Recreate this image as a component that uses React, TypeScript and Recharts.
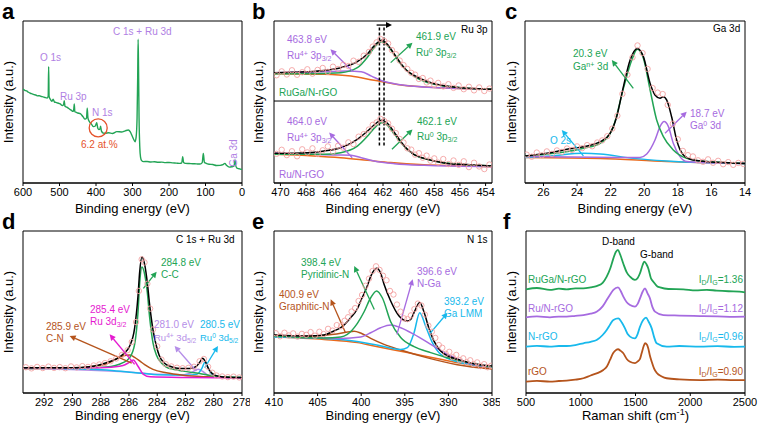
import React from "react";
import { LineChart, Line, XAxis, YAxis, ReferenceArea, ReferenceLine, ReferenceDot } from "recharts";

type P = [number, number][];

const FONT = "'Liberation Sans', Arial, Helvetica, sans-serif";
const GREEN = "#22a455";
const PURPLE = "#a66be0";
const ORANGE = "#ea6a1c";
const BROWN = "#b5541c";
const CYAN = "#18b9ec";
const MAGENTA = "#e51ad0";
const PINK = "#f4a3a3";
const LILAC = "#b07fe3";
const LAV = "#b58ee8";
const RED = "#e5522b";

// ---- a: survey ----
const aTicks = [0, 100, 200, 300, 400, 500, 600];
const aSurvey: P = [
  [600, 58.0], [595, 57.2], [590, 56.8], [585, 56.0], [580, 55.4], [575, 55.0], [570, 54.6], [565, 54.3],
  [560, 53.8], [555, 53.9], [550, 53.4], [545, 53.2], [540, 52.8], [534, 52.4], [531, 53.5], [529.7, 71.8],
  [528.5, 53.5], [525, 51.6], [521, 50.4], [517.5, 51.8], [514, 50.0], [510, 49.8], [505, 49.4], [498, 48.8],
  [492, 47.8], [489, 48.2], [487, 50.8], [485, 47.4], [480, 46.8], [475, 46.0], [468, 45.0], [463, 44.2],
  [461, 45.5], [459.5, 48.8], [458, 44.0], [454, 43.6], [450, 43.2], [443, 42.8], [436, 41.0], [430, 39.4],
  [426, 40.0], [424, 46.1], [422, 40.0], [418, 37.8], [412, 36.2], [407, 34.8], [402, 35.2], [399.5, 36.5],
  [398, 37.2], [395, 33.8], [392, 33.0], [389, 33.4], [387.5, 35.0], [385, 32.0], [380, 30.8], [375, 30.7],
  [365, 31.0], [355, 30.6], [343, 31.7], [330, 31.5], [320, 32.2], [311.5, 32.7], [306, 31.5], [302, 29.6],
  [297, 27.0], [293, 25.5], [290, 28.5], [287.5, 40], [285.8, 65], [284.6, 88.7], [283.5, 72], [282, 40],
  [280, 22], [278, 16], [275, 13.8], [270, 13.2], [260, 13.3], [250, 13.0], [240, 13.1], [230, 12.8],
  [220, 12.9], [210, 12.6], [200, 12.7], [190, 12.4], [180, 12.3], [170, 12.1], [165, 12.4], [162.5, 16.3],
  [160, 12.6], [155, 12.1], [145, 12.0], [135, 11.9], [125, 11.8], [115, 11.7], [109, 12.6], [106, 18.3],
  [103, 12.8], [98, 12.1], [90, 11.6], [80, 11.4], [70, 10.8], [60, 10.9], [52, 11.3], [47, 12.1], [42, 10.8],
  [35, 9.8], [28, 10.0], [22, 10.4], [20, 13.0], [19, 14.2], [17.5, 11.0], [14, 9.2], [8, 8.8], [3, 8.5],
  [0, 8.4],
];

// ---- b: Ru 3p ----
const bTicks = [454, 456, 458, 460, 462, 464, 466, 468, 470];
const bTopRaw: P = [
  [470.3, 66.5], [469.9, 68.9], [469.5, 67.0], [469.1, 69.6], [468.7, 66.8], [468.3, 68.4], [467.9, 70.2],
  [467.5, 67.5], [467.1, 69.8], [466.7, 71.0], [466.3, 68.6], [465.9, 71.8], [465.5, 70.4], [465.1, 73.0],
  [464.7, 72.2], [464.3, 75.5], [463.9, 74.8], [463.5, 78.6], [463.1, 80.9], [462.8, 84.2], [462.5, 86.8],
  [462.2, 88.9], [461.9, 87.6], [461.6, 86.1], [461.3, 82.0], [461.0, 79.5], [460.7, 75.6], [460.4, 72.8],
  [460.1, 70.4], [459.8, 68.0], [459.5, 66.9], [459.2, 64.2], [458.9, 64.8], [458.6, 62.1], [458.3, 63.2],
  [458.0, 60.5], [457.7, 61.8], [457.3, 59.6], [456.9, 61.0], [456.5, 58.7], [456.1, 60.2], [455.7, 57.9],
  [455.3, 59.4], [454.9, 57.2], [454.5, 59.0], [454.1, 56.8], [453.7, 58.3],
];
const bTopFit: P = [
  [470.5, 68.1], [467.9, 68.7], [466.6, 69.5], [465.3, 71.2], [464.0, 74.9], [463.2, 79.8], [462.7, 84.6],
  [462.1, 88.1], [461.7, 86.0], [461.1, 79.4], [460.6, 73.7], [460.1, 69.1], [459.6, 66.5], [458.8, 63.4],
  [458.0, 61.3], [457.0, 59.7], [455.9, 58.8], [453.5, 57.8],
];
const bTopRu0: P = [
  [470.5, 67.5], [467.9, 67.5], [465.3, 68.1], [464.0, 71.2], [463.2, 77.8], [462.7, 83.5], [462.1, 87.2],
  [461.7, 85.2], [461.1, 79.0], [460.6, 73.3], [459.6, 66.0], [458.0, 60.9], [455.9, 58.8], [453.5, 57.8],
];
const bTopRu4: P = [
  [470.5, 68.1], [466.6, 68.7], [464.8, 69.1], [463.7, 68.7], [462.9, 66.0], [462.2, 63.4], [461.1, 61.3],
  [459.6, 59.7], [457.5, 58.8], [453.5, 57.8],
];
const bTopBg: P = [
  [470.5, 67.5], [466.6, 67.1], [464.5, 66.0], [462.7, 63.4], [460.6, 60.5], [458.8, 59.3], [456.2, 58.4],
  [453.5, 57.8],
];
const bBotRaw: P = [
  [470.3, 18.0], [469.9, 20.5], [469.5, 17.2], [469.1, 19.6], [468.7, 16.5], [468.3, 20.8], [467.9, 18.9],
  [467.5, 21.4], [467.1, 17.9], [466.7, 20.2], [466.3, 22.6], [465.9, 19.4], [465.5, 23.0], [465.1, 21.8],
  [464.7, 25.1], [464.3, 24.0], [463.9, 28.6], [463.5, 30.2], [463.1, 33.0], [462.8, 35.9], [462.5, 37.4],
  [462.2, 39.6], [461.9, 38.2], [461.6, 36.8], [461.3, 33.5], [461.0, 30.8], [460.7, 27.2], [460.4, 25.0],
  [460.1, 21.4], [459.8, 20.6], [459.5, 17.5], [459.2, 18.4], [458.9, 15.6], [458.6, 16.9], [458.3, 13.8],
  [458.0, 15.2], [457.7, 12.6], [457.3, 14.8], [456.9, 11.7], [456.5, 13.9], [456.1, 11.2], [455.7, 13.4],
  [455.3, 9.8], [454.9, 12.5], [454.5, 10.2], [454.1, 8.6], [453.7, 11.4],
];
const bBotFit: P = [
  [470.5, 18.3], [467.9, 18.7], [466.6, 19.8], [465.3, 21.8], [464.0, 27.0], [463.2, 32.1], [462.7, 35.8],
  [462.1, 38.7], [461.7, 37.2], [461.1, 31.1], [460.6, 25.5], [460.1, 20.8], [459.6, 17.7], [458.8, 15.2],
  [458.0, 13.6], [457.0, 12.1], [455.9, 11.5], [453.5, 10.5],
];
const bBotRu0: P = [
  [470.5, 17.7], [466.6, 17.7], [465.3, 18.7], [464.0, 22.8], [463.2, 29.0], [462.7, 33.7], [462.1, 37.2],
  [461.7, 35.8], [461.1, 30.0], [460.6, 24.9], [459.6, 17.7], [458.0, 13.6], [455.9, 11.5], [453.5, 10.5],
];
const bBotRu4: P = [
  [470.5, 18.3], [467.4, 17.7], [465.8, 17.3], [464.5, 17.1], [463.7, 15.6], [462.7, 13.6], [461.1, 11.9],
  [458.8, 10.9], [453.5, 10.1],
];
const bBotBg: P = [
  [470.5, 17.7], [467.4, 16.7], [465.3, 15.6], [463.2, 14.0], [461.4, 12.6], [458.8, 11.3], [456.2, 10.7],
  [453.5, 10.1],
];

// ---- c: Ga 3d ----
const cTicks = [14, 16, 18, 20, 22, 24, 26];
const cRaw: P = [
  [27.0, 17.5], [26.7, 16.2], [26.4, 18.8], [26.1, 17.1], [25.8, 19.5], [25.5, 18.0], [25.2, 20.1],
  [24.9, 19.2], [24.6, 21.3], [24.3, 20.4], [24.0, 22.6], [23.7, 21.5], [23.4, 23.4], [23.1, 22.7],
  [22.8, 25.0], [22.5, 26.3], [22.2, 28.9], [21.9, 33.6], [21.6, 41.5], [21.3, 55.0], [21.0, 66.8],
  [20.7, 77.5], [20.4, 84.9], [20.1, 80.2], [19.8, 70.4], [19.5, 58.6], [19.2, 55.8], [18.9, 54.9],
  [18.6, 48.2], [18.3, 36.5], [18.0, 27.0], [17.7, 19.8], [17.4, 17.2], [17.1, 16.4], [16.8, 14.0],
  [16.5, 13.1], [16.2, 14.6], [15.9, 12.5], [15.6, 13.7], [15.3, 11.6], [15.0, 12.9], [14.7, 11.2],
  [14.4, 12.4], [14.1, 11.8],
];
const cFit: P = [
  [27.09, 16.7], [25.6, 18.7], [24.61, 20.8], [23.62, 22.4], [22.63, 25.5], [22.03, 30.7], [21.64, 40.9],
  [21.24, 59.5], [20.84, 75.9], [20.41, 83.1], [20.05, 78.0], [19.65, 61.5], [19.36, 54.3], [19.06, 52.3],
  [18.86, 53.3], [18.66, 51.2], [18.37, 40.9], [18.07, 26.5], [17.67, 17.3], [17.08, 14.2], [15.69, 12.8],
  [14.0, 12.1],
];
const cGaN: P = [
  [27.09, 16.7], [23.62, 21.4], [22.63, 24.5], [21.84, 34.8], [21.24, 58.4], [20.74, 75.9], [20.41, 82.5],
  [20.05, 77.0], [19.65, 57.4], [19.26, 38.9], [18.86, 28.6], [18.27, 20.4], [17.47, 15.2], [16.28, 13.2],
  [14.0, 12.1],
];
const cGa0: P = [
  [27.09, 16.3], [21.64, 15.8], [20.25, 15.8], [19.85, 17.9], [19.36, 26.5], [19.06, 34.8], [18.82, 37.9],
  [18.56, 34.8], [18.27, 24.5], [17.87, 16.3], [17.47, 13.2], [16.68, 12.6], [14.0, 12.1],
];
const cO2s: P = [
  [27.09, 15.8], [25.6, 16.7], [23.62, 18.3], [22.63, 17.9], [20.65, 15.2], [18.66, 13.6], [16.68, 12.6],
  [14.0, 12.1],
];
const cBg: P = [[27.09, 15.8], [22.63, 15.2], [18.66, 13.2], [14.0, 12.1]];

// ---- d: C 1s + Ru 3d ----
const dTicks = [278, 280, 282, 284, 286, 288, 290, 292];
const dRaw: P = [
  [293.3, 15.9], [292.9, 15.2], [292.5, 16.1], [292.1, 15.4], [291.7, 16.3], [291.3, 15.5], [290.9, 16.0],
  [290.5, 15.3], [290.1, 16.4], [289.7, 15.8], [289.3, 16.6], [288.9, 16.1], [288.5, 17.0], [288.1, 17.6],
  [287.7, 18.5], [287.3, 19.6], [286.9, 21.3], [286.5, 23.5], [286.1, 26.4], [285.8, 31.5], [285.5, 43.8],
  [285.3, 63.0], [285.1, 82.5], [284.9, 80.6], [284.7, 67.4], [284.5, 52.1], [284.3, 39.2], [284.0, 28.8],
  [283.7, 20.6], [283.4, 17.8], [283.0, 16.4], [282.6, 15.6], [282.2, 15.3], [281.8, 15.5], [281.4, 16.2],
  [281.0, 19.6], [280.7, 21.0], [280.4, 16.2], [280.1, 12.5], [279.8, 10.8], [279.4, 10.2], [279.0, 9.8],
  [278.6, 10.1], [278.2, 9.6],
];
const dFit: P = [
  [293.5, 15.6], [289.96, 15.6], [288.78, 16.2], [287.6, 18.7], [286.9, 21.0], [286.42, 23.9], [285.95, 29.0],
  [285.6, 40.0], [285.36, 60.0], [285.24, 75.0], [285.08, 84.0], [284.89, 79.4], [284.7, 68.0], [284.54, 54.7],
  [284.3, 39.0], [284.06, 29.0], [283.85, 23.0], [283.5, 18.5], [283.0, 16.2], [282.4, 15.2], [281.7, 15.2],
  [281.23, 16.5], [280.95, 19.5], [280.8, 21.4], [280.6, 19.5], [280.4, 15.5], [280.1, 12.0], [279.6, 10.2],
  [279.0, 9.7], [278.0, 9.5],
];
const dCC: P = [
  [293.5, 15.2], [288.78, 15.6], [287.6, 16.0], [286.42, 18.7], [285.95, 21.8], [285.6, 30.0], [285.36, 50.0],
  [285.24, 68.0], [285.08, 77.8], [284.89, 73.3], [284.7, 62.0], [284.54, 47.0], [284.3, 31.0], [284.06, 23.5],
  [283.7, 18.5], [283.36, 16.0], [282.8, 14.5], [282.18, 13.5], [281.0, 12.0], [280.0, 10.5], [278.0, 9.5],
];
const dCN: P = [
  [293.5, 15.2], [289.96, 15.4], [288.78, 16.2], [287.6, 18.0], [286.9, 21.0], [286.42, 23.0], [285.93, 23.5],
  [285.6, 22.0], [285.24, 19.8], [284.89, 17.5], [284.3, 14.6], [283.36, 12.5], [282.18, 11.0], [280.5, 10.0],
  [278.0, 9.4],
];
const dRu3d32: P = [
  [293.5, 15.6], [288.78, 15.6], [287.6, 15.8], [286.42, 17.0], [286.0, 18.8], [285.7, 20.4], [285.36, 16.5],
  [285.0, 11.7], [284.5, 10.0], [282.0, 9.6], [278.0, 9.4],
];
const dRu0: P = [
  [293.5, 15.6], [290.0, 15.0], [287.6, 14.2], [285.95, 12.8], [284.0, 11.3], [282.0, 11.0], [281.2, 11.5],
  [280.85, 15.0], [280.6, 19.3], [280.4, 15.5], [280.1, 11.0], [279.5, 9.8], [278.0, 9.5],
];
const dRu4: P = [
  [293.5, 15.2], [286.0, 13.0], [284.0, 11.5], [282.2, 11.2], [281.6, 12.5], [281.1, 14.6], [280.7, 12.8],
  [280.3, 10.5], [279.5, 9.7], [278.0, 9.4],
];

// ---- e: N 1s ----
const eTicks = [385, 390, 395, 400, 405, 410];
const eRaw: P = [
  [409.8, 36.9], [409.3, 35.0], [408.8, 37.2], [408.3, 35.5], [407.8, 36.8], [407.3, 34.8], [406.8, 36.5],
  [406.3, 35.9], [405.8, 37.6], [405.3, 35.4], [404.8, 37.8], [404.3, 36.4], [403.8, 39.6], [403.3, 38.5],
  [402.8, 41.9], [402.3, 41.2], [401.9, 44.6], [401.5, 46.8], [401.1, 50.3], [400.7, 52.4], [400.3, 56.8],
  [399.9, 60.5], [399.5, 66.2], [399.1, 70.6], [398.7, 75.3], [398.3, 78.2], [397.9, 76.0], [397.5, 72.4],
  [397.1, 69.6], [396.7, 63.0], [396.3, 60.8], [395.9, 54.6], [395.5, 50.2], [395.1, 46.1], [394.7, 45.6],
  [394.3, 47.9], [393.9, 51.8], [393.5, 55.2], [393.1, 54.0], [392.7, 48.4], [392.3, 41.6], [391.9, 37.8],
  [391.5, 34.0], [391.1, 29.6], [390.7, 27.9], [390.3, 24.2], [389.9, 25.4], [389.5, 22.1], [389.1, 23.5],
  [388.7, 20.3], [388.3, 21.4], [387.9, 19.0], [387.5, 20.2], [387.1, 17.8], [386.7, 18.9], [386.3, 16.6],
  [385.9, 17.8], [385.5, 15.9], [385.1, 16.8],
];
const eFit: P = [
  [410, 35.8], [406.18, 35.2], [404.27, 35.8], [403.12, 38.3], [402.35, 40.3], [401.21, 46.5], [400.44, 52.0],
  [400.06, 56.8], [399.3, 66.0], [398.91, 72.0], [398.23, 77.0], [397.77, 74.0], [397.38, 67.1], [396.62, 56.8],
  [395.66, 47.5], [394.71, 44.4], [394.3, 45.5], [393.94, 49.6], [393.29, 55.8], [392.8, 50.0], [392.23, 40.0],
  [391.65, 32.0], [390.89, 25.9], [390.12, 23.0], [388.97, 20.8], [387.06, 18.1], [385, 16.7],
];
const ePyr: P = [
  [410, 35.2], [404.27, 34.0], [402.35, 34.6], [401.59, 36.2], [400.44, 43.0], [399.68, 50.0], [398.91, 58.8],
  [398.23, 63.0], [397.58, 58.8], [396.62, 44.0], [395.47, 34.2], [393.94, 28.6], [392.03, 24.9], [390.12, 21.8],
  [387.06, 18.1], [385, 16.0],
];
const eNGa: P = [
  [410, 35.2], [402.35, 33.7], [400.06, 34.6], [398.91, 37.2], [397.77, 40.3], [396.62, 42.0], [395.47, 40.3],
  [393.94, 36.2], [392.03, 30.0], [390.12, 23.9], [387.83, 18.7], [385, 16.0],
];
const eGaLMM: P = [
  [410, 34.6], [402.35, 33.1], [398.53, 30.0], [395.47, 26.9], [394.71, 28.0], [393.94, 37.2], [393.29, 49.6],
  [392.61, 41.2], [391.84, 31.1], [390.89, 23.9], [388.97, 19.3], [387.06, 17.3], [385, 16.0],
];
const eGraph: P = [
  [410, 35.6], [406.18, 35.0], [403.12, 36.2], [401.59, 37.6], [400.82, 38.1], [400.06, 37.0], [398.91, 33.7],
  [397.38, 30.0], [395.47, 26.5], [392.61, 22.0], [388.97, 17.5], [385, 14.8],
];
const eBg: P = [
  [410, 34.6], [404.27, 33.1], [400.44, 31.1], [398.53, 29.0], [394.71, 25.0], [390.89, 20.8], [387.06, 16.9],
  [385, 15.2],
];

// ---- f: Raman ----
const fTicks = [500, 1000, 1500, 2000, 2500];
const fRuGa: P = [
  [500, 64.0], [600, 64.8], [719, 63.6], [800, 64.4], [871, 64.0], [950, 64.6], [1024, 64.6], [1090, 65.2],
  [1145, 66.0], [1200, 68.0], [1237, 71.8], [1270, 77.0], [1298, 83.1], [1320, 87.0], [1340, 88.3],
  [1360, 85.5], [1389, 79.8], [1420, 74.5], [1450, 71.8], [1495, 69.8], [1520, 71.0], [1541, 73.9],
  [1565, 79.0], [1580, 81.1], [1600, 79.5], [1617, 76.9], [1640, 71.0], [1663, 68.7], [1700, 65.8],
  [1724, 65.2], [1800, 64.2], [1937, 64.0], [2050, 63.4], [2150, 63.7], [2241, 63.2], [2350, 62.8],
  [2450, 62.6], [2500, 62.1],
];
const fRu: P = [
  [500, 46.7], [600, 47.3], [719, 46.7], [800, 47.2], [871, 47.1], [950, 47.6], [1024, 48.1], [1090, 49.0],
  [1145, 50.2], [1200, 53.5], [1237, 57.4], [1270, 61.0], [1298, 63.6], [1340, 65.2], [1365, 63.0],
  [1389, 59.5], [1420, 56.0], [1450, 54.3], [1495, 53.3], [1520, 55.0], [1541, 58.4], [1565, 62.5],
  [1587, 64.6], [1610, 61.5], [1632, 58.4], [1655, 53.0], [1678, 50.2], [1754, 48.1], [1900, 47.8],
  [2089, 47.5], [2250, 47.3], [2400, 47.0], [2500, 47.1],
];
const fNrGO: P = [
  [500, 28.6], [600, 29.1], [719, 28.6], [800, 29.0], [871, 29.0], [950, 29.6], [1024, 30.7], [1090, 31.6],
  [1145, 32.7], [1200, 35.8], [1237, 38.9], [1270, 42.5], [1298, 45.1], [1343, 46.1], [1375, 43.5],
  [1404, 39.9], [1430, 36.2], [1450, 34.8], [1495, 33.7], [1520, 36.5], [1541, 40.9], [1570, 45.0],
  [1596, 46.5], [1620, 44.0], [1648, 39.9], [1670, 34.5], [1693, 30.7], [1785, 28.6], [1900, 29.0],
  [2089, 28.6], [2250, 28.9], [2400, 28.5], [2500, 28.6],
];
const frGO: P = [
  [500, 7.0], [600, 7.5], [719, 7.0], [800, 7.4], [871, 7.6], [950, 8.2], [1024, 9.1], [1090, 10.8],
  [1145, 12.1], [1206, 14.2], [1240, 16.5], [1267, 20.4], [1295, 24.5], [1313, 26.0], [1340, 27.0],
  [1365, 26.0], [1389, 24.5], [1420, 21.0], [1450, 19.3], [1495, 18.5], [1520, 19.5], [1541, 21.0],
  [1556, 24.5], [1575, 29.0], [1587, 30.7], [1605, 29.8], [1617, 27.5], [1630, 23.5], [1648, 19.3],
  [1670, 15.0], [1693, 12.5], [1740, 10.2], [1785, 9.1], [1900, 8.4], [2089, 8.0], [2250, 8.3],
  [2400, 7.9], [2500, 8.0],
];

const rows = (p: P) => p.map(([x, y]) => ({ x, y }));

function curve(key: string, p: P, color: string, w = 1.5) {
  return (
    <Line key={key} data={rows(p)} dataKey="y" type="monotone" stroke={color} strokeWidth={w}
      dot={false} activeDot={false} isAnimationActive={false} />
  );
}

function circles(key: string, p: P) {
  return (
    <Line key={key} data={rows(p)} dataKey="y" stroke="none"
      dot={{ r: 2.7, stroke: PINK, strokeWidth: 0.9, fill: "none" }}
      activeDot={false} isAnimationActive={false} />
  );
}

const arrowShape = (color: string, w = 1.3) => (p: any) => {
  const { x1, y1, x2, y2 } = p;
  const a = Math.atan2(y2 - y1, x2 - x1);
  const L = 6, H = 3;
  const bx = x2 - L * Math.cos(a);
  const by = y2 - L * Math.sin(a);
  const pts = `${x2},${y2} ${bx - H * Math.sin(a)},${by + H * Math.cos(a)} ${bx + H * Math.sin(a)},${by - H * Math.cos(a)}`;
  return (
    <g>
      <line x1={x1} y1={y1} x2={bx} y2={by} stroke={color} strokeWidth={w} />
      <polygon points={pts} fill={color} />
    </g>
  );
};

function arrow(key: string, from: [number, number], to: [number, number], color: string) {
  return (
    <ReferenceLine key={key} segment={[{ x: from[0], y: from[1] }, { x: to[0], y: to[1] }]}
      ifOverflow="visible" shape={arrowShape(color)} />
  );
}

function Spectrum({ left, top, width, ml, mr, domain, ticks, reversed = true, children }: any) {
  return (
    <div style={{ position: "absolute", left, top }}>
      <LineChart width={width} height={200} margin={{ top: 21, right: mr, bottom: 0, left: ml }}>
        <XAxis type="number" dataKey="x" domain={domain} ticks={ticks} reversed={reversed} allowDataOverflow
          interval={0} height={17} tickSize={3} stroke="#000"
          tick={{ fontSize: 11, fill: "#000", fontFamily: FONT }} />
        <YAxis type="number" domain={[0, 100]} hide allowDataOverflow />
        <ReferenceArea x1={domain[0]} x2={domain[1]} y1={0} y2={100} fill="none" stroke="#000"
          strokeWidth={1} ifOverflow="visible" />
        {children}
      </LineChart>
    </div>
  );
}

function T({ x, y, c = "#000", s = 10, b = false, right, children }: any) {
  const style: React.CSSProperties = {
    position: "absolute", top: y, color: c, fontSize: s, fontWeight: b ? 700 : 400,
    fontFamily: FONT, lineHeight: 1, whiteSpace: "nowrap",
  };
  if (right !== undefined) style.right = right; else style.left = x;
  return <div style={style}>{children}</div>;
}

function Center({ x, y, s = 13, rot = false, c = "#000", children }: any) {
  return (
    <div style={{
      position: "absolute", left: x, top: y, fontSize: s, fontFamily: FONT, color: c, lineHeight: 1,
      whiteSpace: "nowrap", transform: rot ? "translate(-50%,-50%) rotate(-90deg)" : "translateX(-50%)",
    }}>{children}</div>
  );
}

const sub = (t: string) => <sub style={{ fontSize: "0.7em", verticalAlign: "-0.25em", lineHeight: 0 }}>{t}</sub>;
const sup = (t: string) => <sup style={{ fontSize: "0.7em", verticalAlign: "0.5em", lineHeight: 0 }}>{t}</sup>;

export default function App() {
  return (
    <div style={{ position: "absolute", left: 0, top: 0, width: 758, height: 429, background: "#fff", overflow: "hidden" }}>
      {/* a */}
      <Spectrum left={0} top={0} width={250} ml={23} mr={8} domain={[0, 600]} ticks={aTicks}>
        {curve("a", aSurvey, GREEN, 1.4)}
        <ReferenceDot x={394} y={34} r={9} fill="none" stroke={RED} strokeWidth={1.3} ifOverflow="visible" />
      </Spectrum>
      {/* b */}
      <Spectrum left={250} top={0} width={250} ml={24} mr={8} domain={[453.5, 470.5]} ticks={bTicks}>
        {circles("bt0", bTopRaw)}
        {circles("bb0", bBotRaw)}
        {curve("bt1", bTopBg, ORANGE)}
        {curve("bt2", bTopRu4, PURPLE)}
        {curve("bt3", bTopRu0, GREEN)}
        {curve("bt4", bTopFit, "#000")}
        {curve("bb1", bBotBg, ORANGE)}
        {curve("bb2", bBotRu4, PURPLE)}
        {curve("bb3", bBotRu0, GREEN)}
        {curve("bb4", bBotFit, "#000")}
        <ReferenceLine y={50.6} stroke="#000" strokeWidth={1} />
        <ReferenceLine segment={[{ x: 462.28, y: 96 }, { x: 462.28, y: 22 }]} stroke="#000" strokeWidth={1.5} strokeDasharray="3 2" />
        <ReferenceLine segment={[{ x: 461.92, y: 96 }, { x: 461.92, y: 22 }]} stroke="#000" strokeWidth={1.5} strokeDasharray="3 2" />
        {arrow("bar", [462.5, 97.5], [461.3, 97.5], "#000")}
        {arrow("ba1", [464.4, 69.1], [466.1, 82.5], PURPLE)}
        {arrow("ba2", [461.4, 74.3], [459.7, 86.6], GREEN)}
        {arrow("ba3", [464.4, 15.6], [466.2, 31.1], PURPLE)}
        {arrow("ba4", [461.3, 20.8], [459.7, 33.1], GREEN)}
      </Spectrum>
      {/* c */}
      <Spectrum left={500} top={0} width={258} ml={25} mr={13} domain={[14, 27.1]} ticks={cTicks}>
        {circles("c0", cRaw)}
        {curve("c1", cBg, ORANGE)}
        {curve("c2", cO2s, CYAN)}
        {curve("c3", cGa0, PURPLE)}
        {curve("c4", cGaN, GREEN)}
        {curve("c5", cFit, "#000")}
        {arrow("ca1", [20.65, 58.4], [21.93, 75.9], GREEN)}
        {arrow("ca2", [18.76, 30.7], [17.47, 44.0], PURPLE)}
        {arrow("ca3", [23.62, 16.7], [24.91, 32.7], CYAN)}
      </Spectrum>
      {/* d */}
      <Spectrum left={0} top={210} width={250} ml={23} mr={8} domain={[278, 293.5]} ticks={dTicks}>
        {circles("d0", dRaw)}
        {curve("d1", dRu4, LAV)}
        {curve("d2", dRu0, CYAN)}
        {curve("d3", dCN, BROWN)}
        {curve("d4", dCC, GREEN)}
        {curve("d5", dRu3d32, MAGENTA)}
        {curve("d6", dFit, "#000")}
        {arrow("da1", [284.98, 64.6], [284.04, 74.9], GREEN)}
        {arrow("da2", [285.6, 17.7], [287.37, 36.2], MAGENTA)}
        {arrow("da3", [285.8, 18.5], [290.2, 35.2], BROWN)}
        {arrow("da4", [281.23, 13.6], [282.77, 29.0], LAV)}
        {arrow("da5", [280.64, 15.6], [279.7, 29.0], CYAN)}
      </Spectrum>
      {/* e */}
      <Spectrum left={250} top={210} width={250} ml={24} mr={8} domain={[385, 410]} ticks={eTicks}>
        {circles("e0", eRaw)}
        {curve("e1", eBg, ORANGE)}
        {curve("e2", eGraph, BROWN)}
        {curve("e3", eGaLMM, CYAN)}
        {curve("e4", eNGa, PURPLE)}
        {curve("e5", ePyr, GREEN)}
        {curve("e6", eFit, "#000")}
        {arrow("ea1", [398.5, 51.6], [400.8, 78.4], GREEN)}
        {arrow("ea2", [401.8, 37.2], [403.5, 57.8], BROWN)}
        {arrow("ea3", [395.9, 36.2], [394.1, 70.2], PURPLE)}
        {arrow("ea4", [392.2, 36.2], [390.1, 49.6], CYAN)}
      </Spectrum>
      {/* f */}
      <Spectrum left={500} top={210} width={258} ml={26} mr={13} domain={[500, 2500]} ticks={fTicks} reversed={false}>
        {curve("f1", frGO, BROWN, 1.8)}
        {curve("f2", fNrGO, CYAN, 1.8)}
        {curve("f3", fRu, PURPLE, 1.8)}
        {curve("f4", fRuGa, GREEN, 1.8)}
      </Spectrum>

      {/* panel letters */}
      <T x={2} y={1} s={22} b>a</T>
      <T x={252} y={1} s={22} b>b</T>
      <T x={505} y={1} s={22} b>c</T>
      <T x={2} y={211} s={22} b>d</T>
      <T x={252} y={211} s={22} b>e</T>
      <T x={503} y={211} s={22} b>f</T>

      {/* axis titles */}
      <Center x={132.5} y={201.5}>Binding energy (eV)</Center>
      <Center x={383} y={201.5}>Binding energy (eV)</Center>
      <Center x={635} y={201.5}>Binding energy (eV)</Center>
      <Center x={132.5} y={408.5}>Binding energy (eV)</Center>
      <Center x={383} y={408.5}>Binding energy (eV)</Center>
      <Center x={635.5} y={408.5}>Raman shift (cm{sup("-1")})</Center>
      <Center x={8} y={102} rot>Intensity (a.u.)</Center>
      <Center x={258} y={102} rot>Intensity (a.u.)</Center>
      <Center x={511} y={102} rot>Intensity (a.u.)</Center>
      <Center x={8} y={312} rot>Intensity (a.u.)</Center>
      <Center x={258} y={312} rot>Intensity (a.u.)</Center>
      <Center x={511} y={312} rot>Intensity (a.u.)</Center>

      {/* a labels */}
      <T x={40} y={53} c={LILAC}>O 1s</T>
      <T x={113} y={27} c={LILAC}>C 1s + Ru 3d</T>
      <T x={60} y={92} c={LILAC}>Ru 3p</T>
      <T x={92} y={108} c={LILAC}>N 1s</T>
      <T x={81} y={140} c={RED}>6.2 at.%</T>
      <Center x={234} y={153} s={10} rot c={LILAC}>Ga 3d</Center>

      {/* b labels */}
      <T x={461} y={25}>Ru 3p</T>
      <T x={287} y={35} c={PURPLE}>463.8 eV</T>
      <T x={287} y={51} c={PURPLE}>Ru{sup("4+")} 3p{sub("3/2")}</T>
      <T x={416} y={32} c={GREEN}>461.9 eV</T>
      <T x={416} y={48} c={GREEN}>Ru{sup("0")} 3p{sub("3/2")}</T>
      <T x={279} y={88} c={GREEN}>RuGa/N-rGO</T>
      <T x={287} y={117} c={PURPLE}>464.0 eV</T>
      <T x={287} y={133} c={PURPLE}>Ru{sup("4+")} 3p{sub("3/2")}</T>
      <T x={417} y={117} c={GREEN}>462.1 eV</T>
      <T x={417} y={132} c={GREEN}>Ru{sup("0")} 3p{sub("3/2")}</T>
      <T x={279} y={170} c={PURPLE}>Ru/N-rGO</T>

      {/* c labels */}
      <T x={713} y={24}>Ga 3d</T>
      <T x={573} y={49} c={GREEN}>20.3 eV</T>
      <T x={573} y={62} c={GREEN}>Ga{sup("n+")} 3d</T>
      <T x={690} y={109} c={PURPLE}>18.7 eV</T>
      <T x={690} y={121} c={PURPLE}>Ga{sup("0")} 3d</T>
      <T x={550} y={136} c={CYAN}>O 2s</T>

      {/* d labels */}
      <T x={176} y={235}>C 1s + Ru 3d</T>
      <T x={161} y={258} c={GREEN}>284.8 eV</T>
      <T x={161} y={270} c={GREEN}>C-C</T>
      <T x={90} y={305} c={MAGENTA}>285.4 eV</T>
      <T x={90} y={317} c={MAGENTA}>Ru 3d{sub("3/2")}</T>
      <T x={46} y={322} c={BROWN}>285.9 eV</T>
      <T x={46} y={334} c={BROWN}>C-N</T>
      <T x={154} y={320} c={LAV}>281.0 eV</T>
      <T x={154} y={333} c={LAV} s={9.5}>Ru{sup("4+")} 3d{sub("5/2")}</T>
      <T x={200} y={320} c={CYAN}>280.5 eV</T>
      <T x={200} y={333} c={CYAN} s={9.5}>Ru{sup("0")} 3d{sub("5/2")}</T>

      {/* e labels */}
      <T x={467} y={235}>N 1s</T>
      <T x={301} y={258} c={GREEN}>398.4 eV</T>
      <T x={301} y={270} c={GREEN}>Pyridinic-N</T>
      <T x={279} y={290} c={BROWN}>400.9 eV</T>
      <T x={279} y={302} c={BROWN}>Graphitic-N</T>
      <T x={417} y={267} c={PURPLE}>396.6 eV</T>
      <T x={417} y={279} c={PURPLE}>N-Ga</T>
      <T x={444} y={297} c={CYAN}>393.2 eV</T>
      <T x={444} y={309} c={CYAN}>Ga LMM</T>

      {/* f labels */}
      <T x={602} y={237}>D-band</T>
      <T x={640} y={250}>G-band</T>
      <T x={528} y={275} c={GREEN}>RuGa/N-rGO</T>
      <T right={15} y={275} c={GREEN}>I{sub("D")}/I{sub("G")}=1.36</T>
      <T x={528} y={304} c={PURPLE}>Ru/N-rGO</T>
      <T right={15} y={304} c={PURPLE}>I{sub("D")}/I{sub("G")}=1.12</T>
      <T x={528} y={332} c={CYAN}>N-rGO</T>
      <T right={15} y={332} c={CYAN}>I{sub("D")}/I{sub("G")}=0.96</T>
      <T x={528} y={367} c={BROWN}>rGO</T>
      <T right={15} y={367} c={BROWN}>I{sub("D")}/I{sub("G")}=0.90</T>
    </div>
  );
}
